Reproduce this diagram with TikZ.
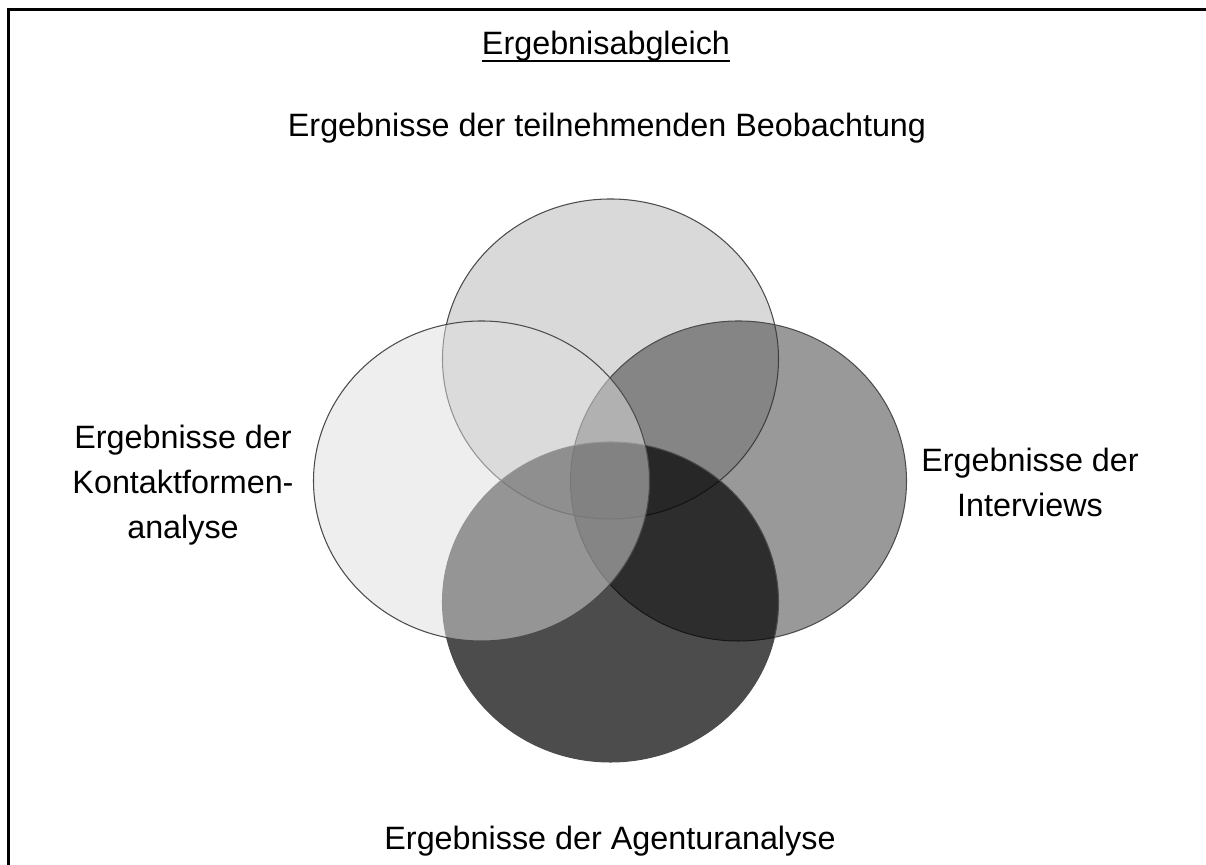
\documentclass[tikz,border=0pt]{standalone}
\usepackage{fontspec}
\setmainfont{Liberation Sans}
\usepackage{tikz}
\usetikzlibrary{positioning}

\begin{document}
\begin{tikzpicture}[
    lbl/.style={font=\fontsize{18.4}{25.6}\selectfont, align=center},
    venn/.style={draw=black!70, line width=0.6pt}]
        \useasboundingbox (0,0) rectangle (24.12,17.3);
        % frame (only top and left edge are in the picture)
        \draw[line width=1.7pt] (25,17.11) -- (0.17,17.11) -- (0.17,-1);
        % the four result sets
        \draw[venn, fill={rgb,255:red,179;green,179;blue,179}, fill opacity=0.5] (12.21,10.12) ellipse [x radius=3.36, y radius=3.2];
        \draw[venn, fill={rgb,255:red,51;green,51;blue,51}, fill opacity=0.5] (14.77,7.68) ellipse [x radius=3.36, y radius=3.2];
        \draw[venn, fill=black, fill opacity=0.7] (12.21,5.26) ellipse [x radius=3.36, y radius=3.2];
        \draw[venn, fill={rgb,255:red,221;green,221;blue,221}, fill opacity=0.5] (9.63,7.68) ellipse [x radius=3.36, y radius=3.2];
        % labels
        \node[lbl, inner sep=0, anchor=base] (title) at (12.12,16.2) {Ergebnisabgleich};
        \draw[line width=1.1pt] ([yshift=-0.12cm]title.base west) -- ([yshift=-0.12cm]title.base east);
        \node[lbl, anchor=base] (beob) at (12.14,14.56) {Ergebnisse der teilnehmenden Beobachtung};
        \node[lbl] (kontakt) at (3.66,7.59) {Ergebnisse der\\Kontaktformen-\\analyse};
        \node[lbl] (interv) at (20.6,7.65) {Ergebnisse der\\Interviews};
        \node[lbl, anchor=base] (agentur) at (12.2,0.3) {Ergebnisse der Agenturanalyse};
    \end{tikzpicture}
\end{document}
